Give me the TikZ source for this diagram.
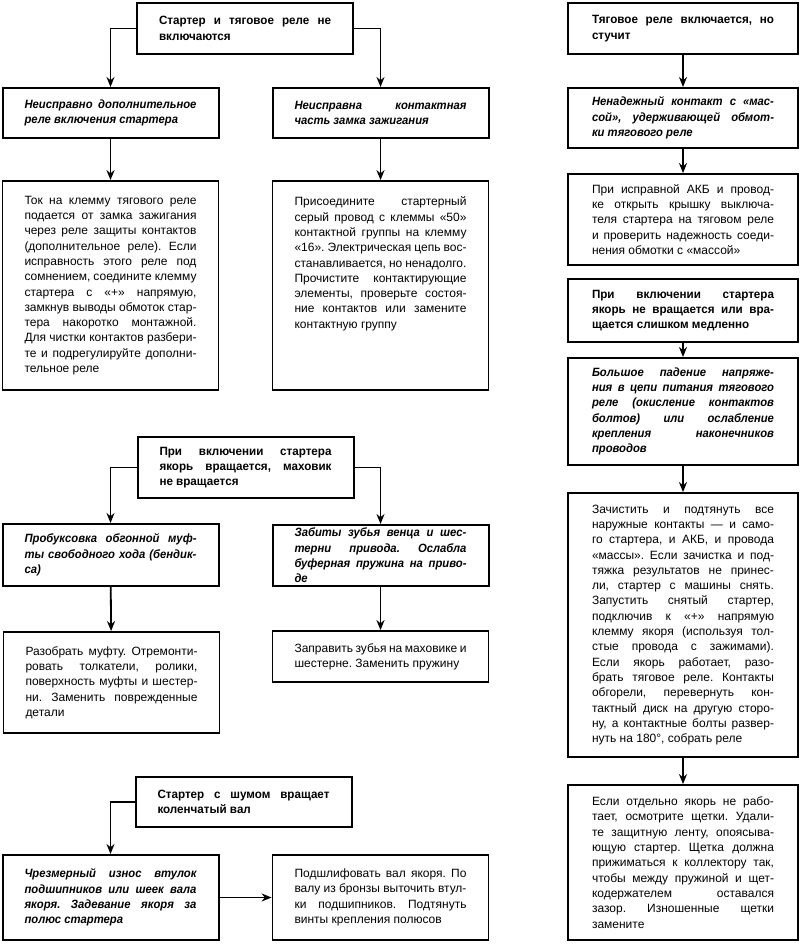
\documentclass[tikz,border=0pt]{standalone}
\usepackage{fontspec}
\setmainfont{Liberation Sans}
\newfontfamily\headfont[FakeStretch=0.97]{Liberation Sans}
\newfontfamily\causefont[FakeStretch=0.94,WordSpace={1,1,2}]{Liberation Sans}
\usepackage{tikz}
\usetikzlibrary{arrows.meta,positioning}
\frenchspacing
\newcommand{\boxfont}{\fontsize{12}{15.3}\selectfont}
\tikzstyle{header} = [rectangle, draw=black, line width=2pt, font=\boxfont\headfont\bfseries, text width=172pt, inner xsep=22pt, inner ysep=0pt, align=justify]
\tikzstyle{cause} = [header, font=\boxfont\causefont\bfseries\itshape]
\tikzstyle{remedy} = [header, font=\boxfont, line width=1.8pt]
\tikzstyle{wide} = [text width=182pt, inner xsep=24pt]
\tikzstyle{arrow} = [line width=1.8pt,-{Stealth[length=10pt,width=8pt]}]
\begin{document}
\begin{tikzpicture}
			[x=1pt,y=-1pt]
			\useasboundingbox (0,0) rectangle (800,944);
			\node[header, minimum height=51pt] (noStart) at (245,28.5) {Стартер и тяговое реле не\linebreak включаются};
			\node[cause, minimum height=50pt] (auxRelay) at (110.5,113) {Неисправно дополнительное\linebreak реле включения стартера};
			\node[cause, minimum height=50pt] (ignitionLock) at (380.5,113) {Неисправна контактная\linebreak часть замка зажигания};
			\node[remedy, minimum height=209pt] (auxRelayFix) at (110.5,285.5) {Ток на клемму тягового реле\linebreak
				подается от замка зажигания\linebreak
				через реле защиты контактов\linebreak
				(дополнительное реле). Если\linebreak
				исправность этого реле под\linebreak
				сомнением, соедините клемму\linebreak
				стартера с «+» напрямую,\linebreak
				замкнув выводы обмоток стар-\linebreak
				тера накоротко монтажной.\linebreak
				Для чистки контактов разбери-\linebreak
				те и подрегулируйте дополни-\linebreak
				тельное реле};
			\node[remedy, minimum height=209pt] (lockFix) at (380.5,285.5) {Присоедините стартерный\linebreak
				серый провод с клеммы «50»\linebreak
				контактной группы на клемму\linebreak
				«16». Электрическая цепь вос-\linebreak
				станавливается, но ненадолго.\linebreak
				Прочистите контактирующие\linebreak
				элементы, проверьте состоя-\linebreak
				ние контактов или замените\linebreak
				контактную группу\par\mbox{}\par\mbox{}\par\mbox{}};
			
			\node[header, wide, minimum height=51pt] (relayKnock) at (683,28.5) {Тяговое реле включается, но\linebreak стучит};
			\node[cause, wide, minimum height=60pt] (massContact) at (683,118) {Ненадежный контакт с «мас-\linebreak сой», удерживающей обмот-\linebreak ки тягового реле};
			\node[remedy, wide, minimum height=91pt] (massFix) at (683,219.5) {При исправной АКБ и провод-\linebreak
				ке открыть крышку выключа-\linebreak
				теля стартера на тяговом реле\linebreak
				и проверить надежность соеди-\linebreak
				нения обмотки с «массой»};
			\node[header, wide, minimum height=63pt] (slowTurn) at (683,310.5) {При включении стартера\linebreak якорь не вращается или вра-\linebreak щается слишком медленно};
			\node[cause, wide, minimum height=107pt] (voltageDrop) at (683,411.5) {Большое падение напряже-\linebreak
				ния в цепи питания тягового\linebreak
				реле (окисление контактов\linebreak
				болтов) или ослабление\linebreak
				крепления наконечников\linebreak
				проводов};
			\node[remedy, wide, minimum height=264pt] (contactFix) at (683,625) {Зачистить и подтянуть все\linebreak
				наружные контакты — и само-\linebreak
				го стартера, и АКБ, и провода\linebreak
				«массы». Если зачистка и под-\linebreak
				тяжка результатов не принес-\linebreak
				ли, стартер с машины снять.\linebreak
				Запустить снятый стартер,\linebreak
				подключив к «+» напрямую\linebreak
				клемму якоря (используя тол-\linebreak
				стые провода с зажимами).\linebreak
				Если якорь работает, разо-\linebreak
				брать тяговое реле. Контакты\linebreak
				обгорели, перевернуть кон-\linebreak
				тактный диск на другую сторо-\linebreak
				ну, а контактные болты развер-\linebreak
				нуть на 180°, собрать реле};
			\node[remedy, wide, minimum height=155pt] (brushFix) at (683,862.5) {Если отдельно якорь не рабо-\linebreak
				тает, осмотрите щетки. Удали-\linebreak
				те защитную ленту, опоясыва-\linebreak
				ющую стартер. Щетка должна\linebreak
				прижиматься к коллектору так,\linebreak
				чтобы между пружиной и щет-\linebreak
				кодержателем оставался\linebreak
				зазор. Изношенные щетки\linebreak
				замените};
			
			\node[header, minimum height=61pt] (flywheelIdle) at (245.5,467.5) {При включении стартера\linebreak якорь вращается, маховик\linebreak не вращается};
			\node[cause, minimum height=62pt] (clutchSlip) at (110.5,555) {Пробуксовка обгонной муф-\linebreak ты свободного хода (бендик-\linebreak са)};
			\node[cause, minimum height=61pt] (ringTeeth) at (380.5,555.5) {Забиты зубья венца и шес-\linebreak терни привода. Ослабла\linebreak буферная пружина на приво-\linebreak де};
			\node[remedy, minimum height=101pt] (clutchFix) at (111.5,682.5) {Разобрать муфту. Отремонти-\linebreak
				ровать толкатели, ролики,\linebreak
				поверхность муфты и шестер-\linebreak
				ни. Заменить поврежденные\linebreak
				детали};
			\node[remedy, minimum height=51pt] (teethFix) at (380.5,656.5) {Заправить зубья на маховике и\linebreak шестерне. Заменить пружину};
			
			\node[header, minimum height=50pt] (noisyCrank) at (243.5,802) {Стартер с шумом вращает\linebreak коленчатый вал};
			\node[cause, minimum height=85pt] (bushWear) at (110.5,897.5) {Чрезмерный износ втулок\linebreak
				подшипников или шеек вала\linebreak
				якоря. Задевание якоря за\linebreak
				полюс стартера};
			\node[remedy, minimum height=85pt] (shaftFix) at (380.5,897.5) {Подшлифовать вал якоря. По\linebreak
				валу из бронзы выточить втул-\linebreak
				ки подшипников. Подтянуть\linebreak
				винты крепления полюсов};
			
			\draw[arrow] (noStart.west) -| (auxRelay.north);
			\draw[arrow] (noStart.east) -| (ignitionLock.north);
			\draw[arrow] (auxRelay) -- (auxRelayFix);
			\draw[arrow] (ignitionLock) -- (lockFix);
			\draw[arrow] (relayKnock) -- (massContact);
			\draw[arrow] (massContact) -- (massFix);
			\draw[arrow] (slowTurn) -- (voltageDrop);
			\draw[arrow] (voltageDrop) -- (contactFix);
			\draw[arrow] (contactFix) -- (brushFix);
			\draw[arrow] (flywheelIdle.west) -| (clutchSlip.north);
			\draw[arrow] (flywheelIdle.east) -| (ringTeeth.north);
			\draw[arrow] (clutchSlip) -- (clutchFix);
			\draw[arrow] (ringTeeth) -- (teethFix);
			\draw[arrow] (noisyCrank.west) -| (bushWear.north);
			\draw[arrow] (bushWear) -- (shaftFix);
			\end{tikzpicture}
\end{document}
